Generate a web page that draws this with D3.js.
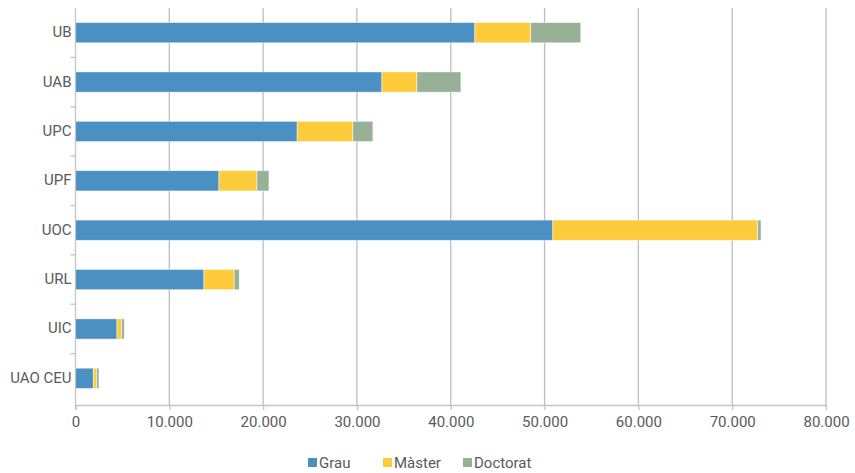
<!DOCTYPE html>
<html><head><meta charset="utf-8">
<script src="https://cdn.jsdelivr.net/npm/d3@7"></script>
<style>body{margin:0;background:#fff}text{font-family:Roboto,"Liberation Sans",sans-serif;}</style>
</head><body><svg id="c" width="855" height="473"></svg>
<script>
const categories = ["UB","UAB","UPC","UPF","UOC","URL","UIC","UAO CEU"];
const seriesNames = ["Grau","Màster","Doctorat"];
const grau = [42570,32660,23630,15290,50880,13690,4420,1900];
const master = [5960,3730,5940,4050,21840,3230,500,360];
const doctorat = [5330,4690,2130,1280,350,530,280,240];
const colors = ["#4a90c2","#fecb3a","#97b096"];
const xTicks = [0,10000,20000,30000,40000,50000,60000,70000,80000];

const svg = d3.select("#c");
const m = {l:75.5, r:29, t:8, b:68};
const W = 855, H = 473;
const x = d3.scaleLinear().domain([0,80000]).range([m.l, W-m.r]);
const y = d3.scaleBand().domain(categories).range([m.t, 403]).paddingInner(0.59).paddingOuter(0.295);
const fmt = v => d3.format(",")(v).replace(/,/g,".");

// grid
svg.append("g").selectAll("line").data(xTicks.slice(1)).join("line")
  .attr("x1",d=>x(d)).attr("x2",d=>x(d)).attr("y1",m.t).attr("y2",405)
  .attr("stroke","#bdbdbd").attr("stroke-width",1.3);

const stackData = categories.map((c,i)=>({c, Grau:grau[i], "Màster":master[i], Doctorat:doctorat[i]}));
const stack = d3.stack().keys(seriesNames)(stackData);
svg.append("g").selectAll("g").data(stack).join("g").attr("fill",(d,i)=>colors[i])
  .selectAll("rect").data(d=>d).join("rect")
  .attr("x",d=>x(d[0])).attr("width",d=>x(d[1])-x(d[0]))
  .attr("y",d=>y(d.data.c)).attr("height",y.bandwidth())
  .attr("stroke","#ffffff").attr("stroke-opacity",0.6).attr("stroke-width",0.8);

// x axis
const xa = svg.append("g").attr("transform","translate(0,405)")
  .call(d3.axisBottom(x).tickValues(xTicks).tickFormat(fmt).tickSize(5).tickSizeOuter(0));
xa.select(".domain").attr("stroke","#c4c4c4").attr("stroke-width",1.3);
xa.selectAll(".tick line").attr("stroke","#c4c4c4").attr("stroke-width",1.3);
xa.selectAll("text").attr("fill","#5a5a5a").attr("font-size",15).attr("dy","0.9em");

// y axis
const ya = svg.append("g").attr("transform",`translate(${m.l},0)`)
  .call(d3.axisLeft(y).tickSize(0).tickPadding(4));
ya.select(".domain").attr("stroke","#c4c4c4").attr("stroke-width",1.3).attr("d",`M0,${m.t}V410`);
ya.selectAll("text").attr("fill","#5a5a5a").attr("font-size",15).attr("dy","0.3em");
const seps = categories.slice(1).map(c=> y(c) - y.step()*y.paddingInner()/2);
svg.append("g").selectAll("line").data(seps).join("line")
  .attr("x1",m.l-5).attr("x2",m.l).attr("y1",d=>d).attr("y2",d=>d)
  .attr("stroke","#c4c4c4").attr("stroke-width",1.3);

// legend
const legX = [308,383,463];
const lg = svg.append("g");
seriesNames.forEach((s,i)=>{
  lg.append("rect").attr("x",legX[i]).attr("y",458).attr("width",9).attr("height",9).attr("fill",colors[i]);
  lg.append("text").attr("x",legX[i]+11).attr("y",463).attr("dy","0.35em").attr("font-size",15).attr("fill","#5a5a5a").text(s);
});
</script></body></html>
